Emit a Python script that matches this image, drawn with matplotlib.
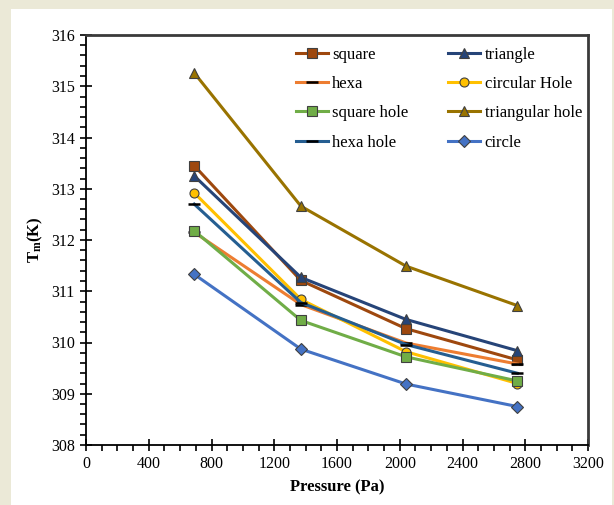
import matplotlib
matplotlib.use("Agg")
import matplotlib.pyplot as plt
from matplotlib.patches import Rectangle
from matplotlib.ticker import MultipleLocator

plt.rcParams["font.family"] = ["Liberation Serif", "DejaVu Serif"]
plt.rcParams["mathtext.fontset"] = "custom"
plt.rcParams["mathtext.rm"] = "Liberation Serif"
plt.rcParams["mathtext.bf"] = "Liberation Serif:bold"

# 数据：压力 (Pa) 与各形状的 Tm (K)
pressure = [690, 1370, 2040, 2750]

square = [313.45, 311.21, 310.27, 309.66]
triangle = [313.25, 311.27, 310.45, 309.84]
hexa = [312.15, 310.74, 309.99, 309.58]
circular_hole = [312.92, 310.84, 309.82, 309.20]
square_hole = [312.18, 310.43, 309.72, 309.25]
triangular_hole = [315.26, 312.66, 311.49, 310.72]
hexa_hole = [312.70, 310.78, 309.96, 309.40]
circle = [311.33, 309.87, 309.19, 308.75]

# (标签, 数据, 颜色, 标记)
series = [
    ("square", square, "#9E480E", "s"),
    ("triangle", triangle, "#264478", "^"),
    ("hexa", hexa, "#ED7D31", "_"),
    ("circular Hole", circular_hole, "#FFC000", "o"),
    ("square hole", square_hole, "#70AD47", "s"),
    ("triangular hole", triangular_hole, "#997300", "^"),
    ("hexa hole", hexa_hole, "#255E91", "_"),
    ("circle", circle, "#4472C4", "D"),
]

fig = plt.figure(figsize=(6.14, 5.05), dpi=100, facecolor="#EBE9D7")
fig.patches.append(Rectangle((11 / 614, 0), 600.5 / 614, 496 / 505,
                             transform=fig.transFigure, facecolor="white",
                             edgecolor="none", zorder=-1))
ax = fig.add_axes([86 / 614, 60 / 505, 502 / 614, 410 / 505])
ax.set_zorder(1)

handles = []
for label, vals, color, mk in series:
    if mk == "_":
        h, = ax.plot(pressure, vals, color=color, lw=2.2, marker="_", ms=9,
                     mec="black", mew=1.8, label=label)
    else:
        ms = 6.5 if mk != "D" else 6
        h, = ax.plot(pressure, vals, color=color, lw=2.2, marker=mk, ms=ms,
                     mfc=color, mec="#404040", mew=0.8, label=label)
    handles.append(h)

ax.set_xlim(0, 3200)
ax.set_ylim(308, 316)
ax.xaxis.set_major_locator(MultipleLocator(400))
ax.xaxis.set_minor_locator(MultipleLocator(100))
ax.yaxis.set_major_locator(MultipleLocator(1))
ax.yaxis.set_minor_locator(MultipleLocator(0.2))
ax.tick_params(which="major", direction="inout", length=8, width=1.2,
               labelsize=11.5, colors="black", pad=4)
ax.tick_params(which="minor", direction="out", length=4, width=1.2)
ax.tick_params(top=False, right=False)

for side in ("left", "bottom"):
    ax.spines[side].set_linewidth(1.3)
    ax.spines[side].set_color("black")
for side in ("top", "right"):
    ax.spines[side].set_linewidth(2)
    ax.spines[side].set_color("#3A3A3A")

ax.set_xlabel("Pressure (Pa)", fontsize=12, fontweight="bold", labelpad=5)
ax.set_ylabel(r"$\mathbf{T_m}$(K)", fontsize=12, fontweight="bold", labelpad=4)

# 图例按行排列：先取偶数项作第一列，奇数项作第二列
order = handles[0::2] + handles[1::2]
ax.legend(handles=order, loc="upper left", bbox_to_anchor=(0.405, 0.988), ncol=2,
          frameon=False, fontsize=12, handlelength=1.92, handletextpad=0.25,
          labelspacing=0.8, columnspacing=2.4, borderaxespad=0)

fig.savefig("out.png", dpi=100, facecolor=fig.get_facecolor())
